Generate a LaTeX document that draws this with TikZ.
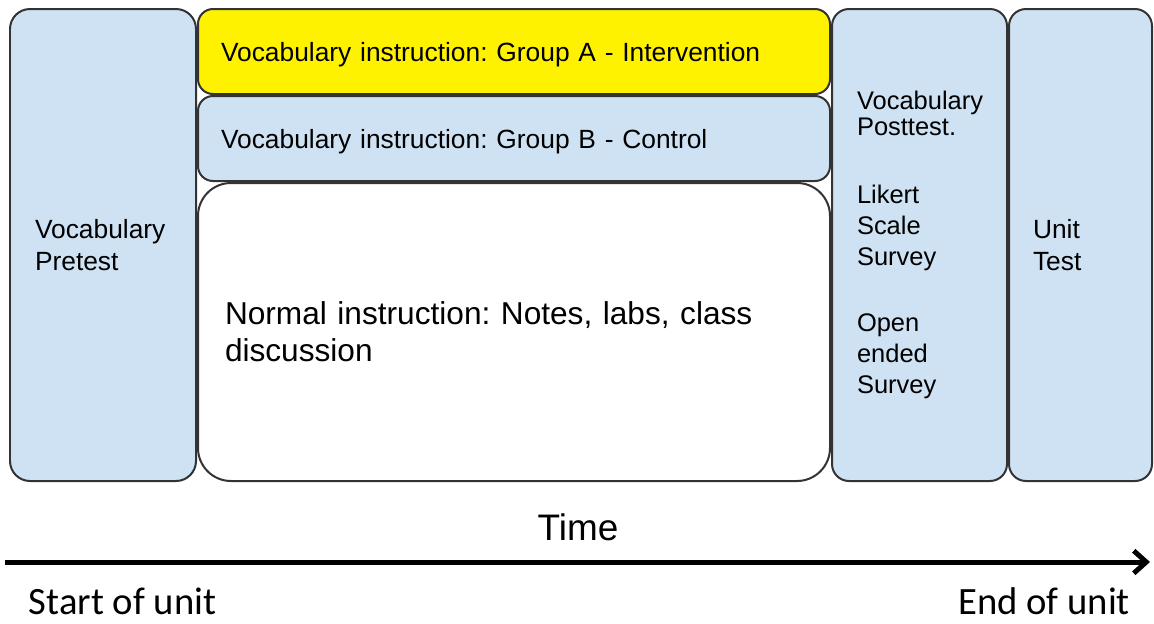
\documentclass[tikz,border=0pt]{standalone}
\usepackage{fontspec}
\setmainfont{Liberation Sans}
\newfontfamily\unitfont{Carlito}
\usetikzlibrary{positioning}
\usetikzlibrary{arrows.meta}
\definecolor{paleblue}{HTML}{CFE2F3}
\definecolor{edgegray}{HTML}{333333}
\frenchspacing

\begin{document}
\begin{tikzpicture}[line width=0.04cm, node distance=0mm, font=\fontsize{15}{18.2}\selectfont]
    \tikzstyle{box}=[draw=edgegray, fill=paleblue, rectangle, rounded corners=0.4cm, inner ysep=0pt, align=left]
    \tikzstyle{band}=[box, rounded corners=0.3cm, minimum width=12.64cm, text width=11.72cm, inner xsep=0.46cm, text depth=0pt]
    \tikzstyle{axistext}=[inner sep=0pt]

    \useasboundingbox (0,0) rectangle (23.08,-12.46);

	\node[box, minimum width=3.72cm, minimum height=9.44cm, text width=2.72cm, inner xsep=0.5cm] (pre) at (2.06,-4.9) {Vocabulary\\Pretest};
	\node[band, fill=yellow, minimum height=1.70cm, below right=0mm and 0mm of pre.north east] (grpA) {Vocabulary instruction: Group A - Intervention};
	\node[band, minimum height=1.70cm, below=of grpA] (grpB) {Vocabulary instruction: Group B - Control};
	\node[band, fill=white, rounded corners=0.66cm, minimum height=5.96cm, inner xsep=0.54cm, text width=11.56cm, text depth=, font=\fontsize{18}{21}\selectfont, below=of grpB] (normal) {Normal instruction: Notes, labs, class\\discussion};

	\node[box, rounded corners=0.34cm, minimum width=3.5cm, minimum height=9.44cm, text width=2.5cm, inner xsep=0.5cm, font=\fontsize{14.5}{17.6}\selectfont, below right=0mm and 0mm of grpA.north east] (post) {Vocabulary\\[-0.1cm]Posttest.\\[0.74cm]Likert\\Scale\\Survey\\[0.72cm]Open\\ended\\Survey};
	\node[box, rounded corners=0.34cm, minimum width=2.86cm, minimum height=9.44cm, text width=1.9cm, inner xsep=0.48cm, below right=0mm and 0mm of post.north east] (unit) {Unit\\Test};

    % time axis
	\coordinate (t0) at (0.1,-11.24);
	\coordinate (t1) at (23.0,-11.24);
	\draw[black, line width=0.1cm, -{Straight Barb[length=0.25cm, width=0.45cm]}] (t0) -- (t1);

	\node[axistext, font=\fontsize{21}{24}\selectfont, anchor=base] (time) at (11.56,-10.8) {Time};
	\node[axistext, font=\unitfont\fontsize{22}{26}\selectfont, anchor=base west] (start) at (0.56,-12.28) {Start of unit};
	\node[axistext, font=\unitfont\fontsize{22}{26}\selectfont, anchor=base east] (finish) at (22.62,-12.28) {End of unit};
\end{tikzpicture}
\end{document}
